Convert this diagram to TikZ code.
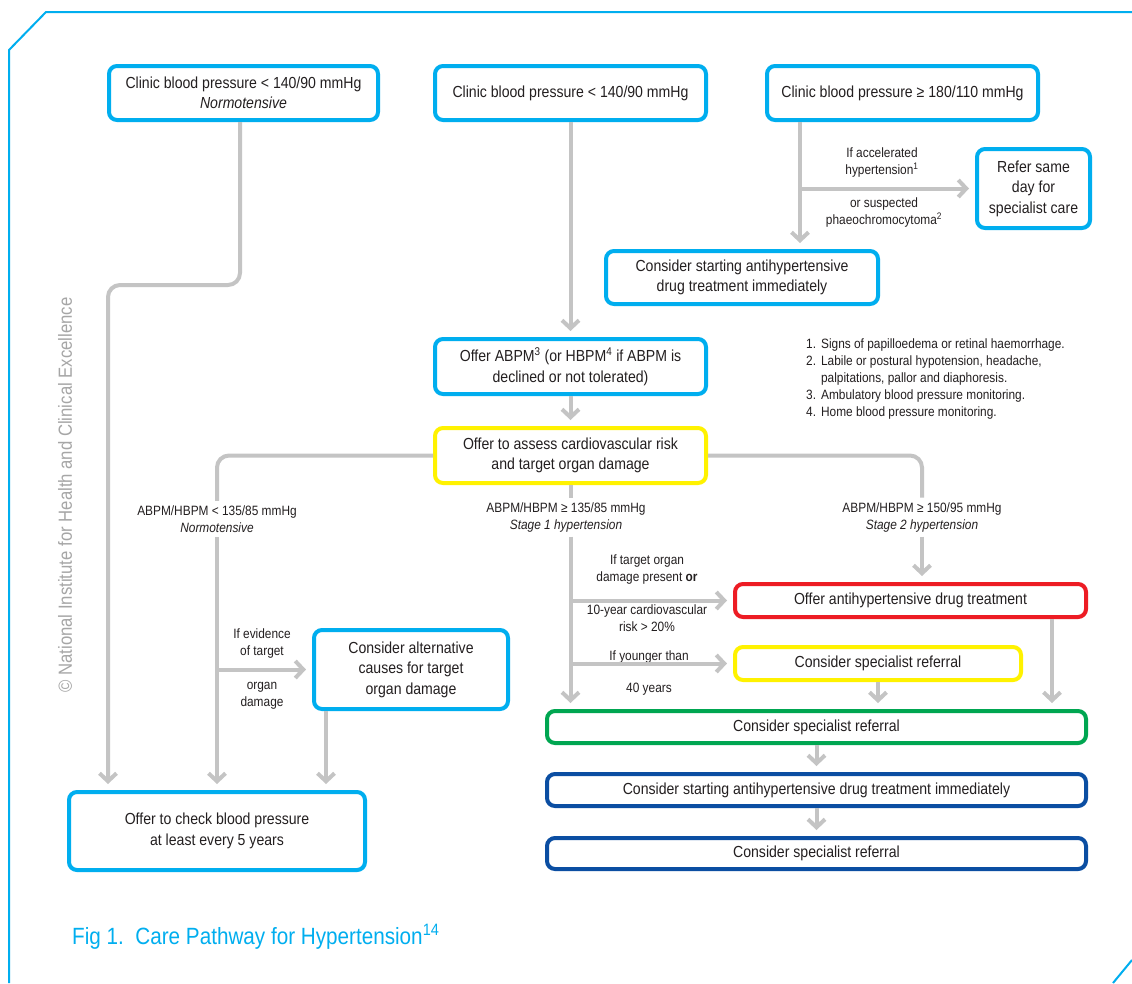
\documentclass[tikz,border=0pt]{standalone}
\usepackage{fontspec}
\setmainfont{Liberation Sans}[FakeStretch=0.88]
\usetikzlibrary{arrows.meta}
\definecolor{cyanb}{HTML}{00AEEF}
\definecolor{yelb}{HTML}{FFF200}
\definecolor{redb}{HTML}{ED1C24}
\definecolor{greenb}{HTML}{00A651}
\definecolor{blueb}{HTML}{0B4EA2}
\definecolor{conn}{HTML}{C4C4C4}
\definecolor{txt}{HTML}{231F20}
\definecolor{copyc}{HTML}{A6A6A6}
\begin{document}
\begin{tikzpicture}[x=1pt,y=-1pt,
 bx/.style={draw, rounded corners=8pt, line width=4pt, fill=white, align=center, inner sep=0pt, text=txt, font=\fontsize{16}{20.5}\selectfont},
 lbl/.style={align=center, inner sep=0pt, text=txt, font=\fontsize{13.5}{17}\selectfont},
 ln/.style={draw=conn, line width=4pt},
 arr/.style={ln, -{Straight Barb[length=8pt,width=17pt]}, shorten >=6pt},
]
\useasboundingbox[fill=white] (0,0) rectangle (1132,983);
% frame
\draw[cyanb, line width=2pt] (9,983) -- (9,50) -- (46,12) -- (1132,12);
\draw[cyanb, line width=2pt] (1113,983) -- (1132,960);

% boxes
\node[bx, draw=cyanb, minimum width=269pt, minimum height=54pt] (b1) at (243.5,93) {Clinic blood pressure < 140/90 mmHg\\\textit{Normotensive}};
\node[bx, draw=cyanb, minimum width=271pt, minimum height=54pt] (b2) at (570.5,93) {Clinic blood pressure < 140/90 mmHg};
\node[bx, draw=cyanb, minimum width=271pt, minimum height=54pt] (b3) at (902.5,93) {Clinic blood pressure ≥ 180/110 mmHg};
\node[bx, draw=cyanb, minimum width=113pt, minimum height=79pt] (b4) at (1033.5,188.5) {Refer same\\day for\\specialist care};
\node[bx, draw=cyanb, minimum width=272pt, minimum height=53pt] (b5) at (742,277.5) {Consider starting antihypertensive\\drug treatment immediately};
\node[bx, draw=cyanb, minimum width=271pt, minimum height=55pt] (b6) at (570.5,366.5) {Offer ABPM\textsuperscript{3} (or HBPM\textsuperscript{4} if ABPM is\\declined or not tolerated)};
\node[bx, draw=yelb, minimum width=271pt, minimum height=55pt] (b7) at (570.5,455.5) {Offer to assess cardiovascular risk\\and target organ damage};
\node[bx, draw=cyanb, minimum width=194pt, minimum height=79pt] (b8) at (411,669.5) {Consider alternative\\causes for target\\organ damage};
\node[bx, draw=cyanb, minimum width=296pt, minimum height=78pt] (b9) at (217,831) {Offer to check blood pressure\\at least every 5 years};
\node[bx, draw=redb, minimum width=351pt, minimum height=33pt] (b10) at (910.5,600.5) {Offer antihypertensive drug treatment};
\node[bx, draw=yelb, minimum width=286pt, minimum height=33pt] (b11) at (878,663.5) {Consider specialist referral};
\node[bx, draw=greenb, minimum width=539pt, minimum height=32pt] (b12) at (816.5,727) {Consider specialist referral};
\node[bx, draw=blueb, minimum width=539pt, minimum height=32pt] (b13) at (816.5,790) {Consider starting antihypertensive drug treatment immediately};
\node[bx, draw=blueb, minimum width=539pt, minimum height=31pt] (b14) at (816.5,853.5) {Consider specialist referral};

% branch labels
\node[lbl] (l1) at (217,519.5) {ABPM/HBPM < 135/85 mmHg\\\textit{Normotensive}};
\node[lbl] (l2) at (566,517.5) {ABPM/HBPM ≥ 135/85 mmHg\\\textit{Stage 1 hypertension}};
\node[lbl] (l3) at (922,517.5) {ABPM/HBPM ≥ 150/95 mmHg\\\textit{Stage 2 hypertension}};
\node[lbl] (t1) at (882,163) {If accelerated\\hypertension\textsuperscript{1}};
\node[lbl] (t2) at (884,213) {or suspected\\phaeochromocytoma\textsuperscript{2}};
\node[lbl] (t3) at (262,643) {If evidence\\of target};
\node[lbl] (t4) at (262,695.5) {organ\\damage};
\node[lbl] (t5) at (647,569.5) {If target organ\\damage present \textbf{or}};
\node[lbl] (t6) at (647,618.5) {10-year cardiovascular\\risk > 20\%};
\node[lbl] (t7) at (649,657) {If younger than};
\node[lbl] (t8) at (649,689) {40 years};

% footnotes
\node[lbl, anchor=west, align=left] (fn) at (806,379.5) {\begin{tabular}{@{}l@{\hspace{5pt}}l@{}}
1. & Signs of papilloedema or retinal haemorrhage.\\
2. & Labile or postural hypotension, headache,\\
   & palpitations, pallor and diaphoresis.\\
3. & Ambulatory blood pressure monitoring.\\
4. & Home blood pressure monitoring.
\end{tabular}};

% caption and copyright
\node[anchor=west, inner sep=0pt, text=cyanb, font=\fontsize{23.5}{27}\selectfont] (cap) at (72,937) {Fig 1.\ \ Care Pathway for Hypertension\textsuperscript{14}};
\node[rotate=90, inner sep=0pt, text=copyc, font=\fontsize{19}{23}\selectfont] (cr) at (65,495) {© National Institute for Health and Clinical Excellence};

% connectors
\coordinate (k1) at (108,285);
\coordinate (k0) at ([xshift=-3.5pt]b1.south);
\draw[arr, rounded corners=12pt] (k0) |- (k1) -- (k1 |- b9.north);
\draw[arr] (b2.south) -- (b6.north);
\coordinate (k2) at ([xshift=-102.5pt]b3.south);
\draw[arr] (k2) -- (k2 |- b5.north);
\draw[arr] (k2 |- b4.west) -- (b4.west);
\draw[arr] (b6.south) -- (b7.north);
% left branch
\draw[ln, rounded corners=12pt] (b7.west) -| ([yshift=5pt]l1.north);
\draw[arr] ([yshift=-4pt]l1.south) -- (l1.south |- b9.north);
\draw[arr] (b8.west -| l1.south) -- (b8.west);
\coordinate (k3) at ([xshift=-85pt]b8.south);
\draw[arr] (k3) -- (k3 |- b9.north);
% middle branch
\coordinate (s1a) at (b7.south |- l2.north);
\coordinate (s1b) at (b7.south |- l2.south);
\draw[ln] (b7.south) -- ([yshift=5pt]s1a);
\draw[arr] ([yshift=-4pt]s1b) -- (s1b |- b12.north);
\draw[arr] (b10.west -| s1b) -- (b10.west);
\draw[arr] (b11.west -| s1b) -- (b11.west);
% right branch
\draw[ln, rounded corners=12pt] (b7.east) -| ([yshift=5pt]l3.north);
\draw[arr] ([yshift=-4pt]l3.south) -- (l3.south |- b10.north);
\coordinate (k4) at ([xshift=141.5pt]b10.south);
\draw[arr] (k4) -- (k4 |- b12.north);
\draw[arr] (b11.south) -- (b11.south |- b12.north);
\draw[arr] (b12.south) -- (b13.north);
\draw[arr] (b13.south) -- (b14.north);
\end{tikzpicture}
\end{document}
